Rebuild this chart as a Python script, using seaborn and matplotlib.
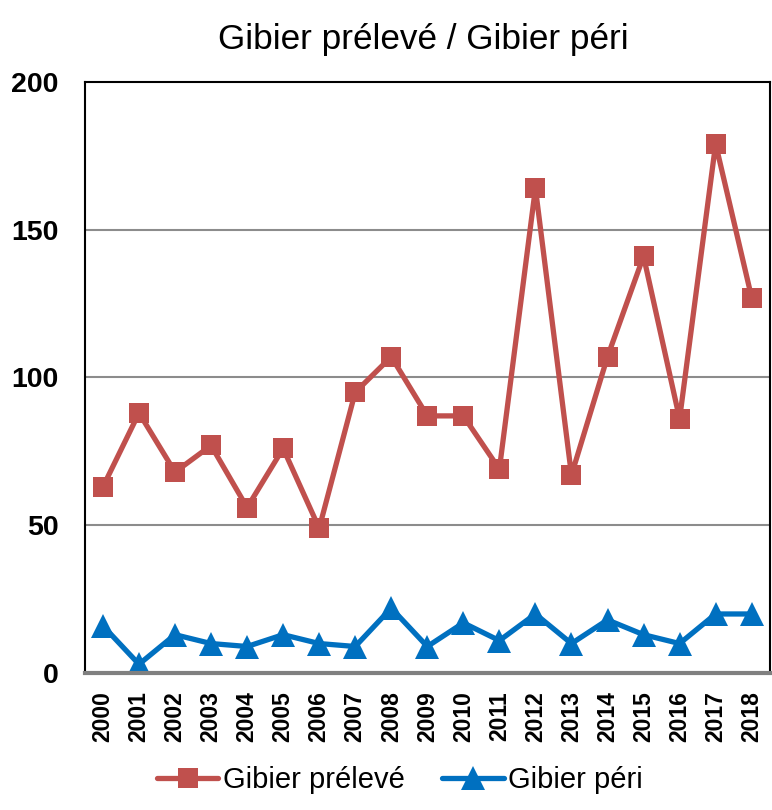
import matplotlib
matplotlib.use("Agg")
import matplotlib.pyplot as plt
import seaborn as sns
import pandas as pd

years = [str(y) for y in range(2000, 2019)]
preleve = [63, 88, 68, 77, 56, 76, 49, 95, 107, 87, 87, 69, 164, 67, 107, 141, 86, 179, 127]
peri = [16, 3, 13, 10, 9, 13, 10, 9, 22, 9, 17, 11, 20, 10, 18, 13, 10, 20, 20]
yticks = [0, 50, 100, 150, 200]

sns.set_theme(style="white")
plt.rcParams['font.family'] = ['Liberation Sans', 'DejaVu Sans']
plt.rcParams['text.color'] = 'black'
plt.rcParams['xtick.color'] = 'black'
plt.rcParams['ytick.color'] = 'black'
plt.rcParams['xtick.labelcolor'] = 'black'
plt.rcParams['ytick.labelcolor'] = 'black'

df = pd.DataFrame({"idx": list(range(len(years))), "preleve": preleve, "peri": peri})

fig = plt.figure(figsize=(7.72, 8.10), dpi=100)
ax = fig.add_axes([0.110, 0.169, 0.887, 0.730])

sns.lineplot(data=df, x="idx", y="preleve", ax=ax, color="#C0504D", linewidth=3.8,
             marker="s", markersize=15, markeredgewidth=0, label="Gibier prélevé")
sns.lineplot(data=df, x="idx", y="peri", ax=ax, color="#0070C0", linewidth=3.8,
             marker="^", markersize=17, markeredgewidth=0, label="Gibier péri")

ax.set_xlim(-0.5, len(years) - 0.5)
ax.set_ylim(0, 200)
ax.set_yticks(yticks)
ax.set_yticklabels([str(t) for t in yticks], fontsize=20.5, fontweight="bold", color="black")
ax.set_xticks(range(len(years)))
ax.set_xticklabels(years, rotation=90, fontsize=16.5, fontweight="bold", color="black")
ax.tick_params(axis="y", length=0, pad=19)
ax.tick_params(axis="x", length=0, pad=13)
ax.set_xlabel("")
ax.set_ylabel("")

for t in [50, 100, 150]:
    ax.axhline(t, color="#8c8c8c", linewidth=1.5, zorder=0)

for s in ["left", "top", "right"]:
    ax.spines[s].set_color("black")
    ax.spines[s].set_linewidth(1.5)
ax.spines["bottom"].set_color("#808080")
ax.spines["bottom"].set_linewidth(3)

fig.text(0.548, 0.951, "Gibier prélevé / Gibier péri", fontsize=25.3,
         ha="center", va="center", color="black")

leg = ax.legend(loc="center", bbox_to_anchor=(0.46, -0.181), ncol=2, frameon=False,
                fontsize=21, handlelength=2.1, handletextpad=0.15, columnspacing=1.3)
for txt in leg.get_texts():
    txt.set_color("black")

fig.savefig("out.png", dpi=100)
